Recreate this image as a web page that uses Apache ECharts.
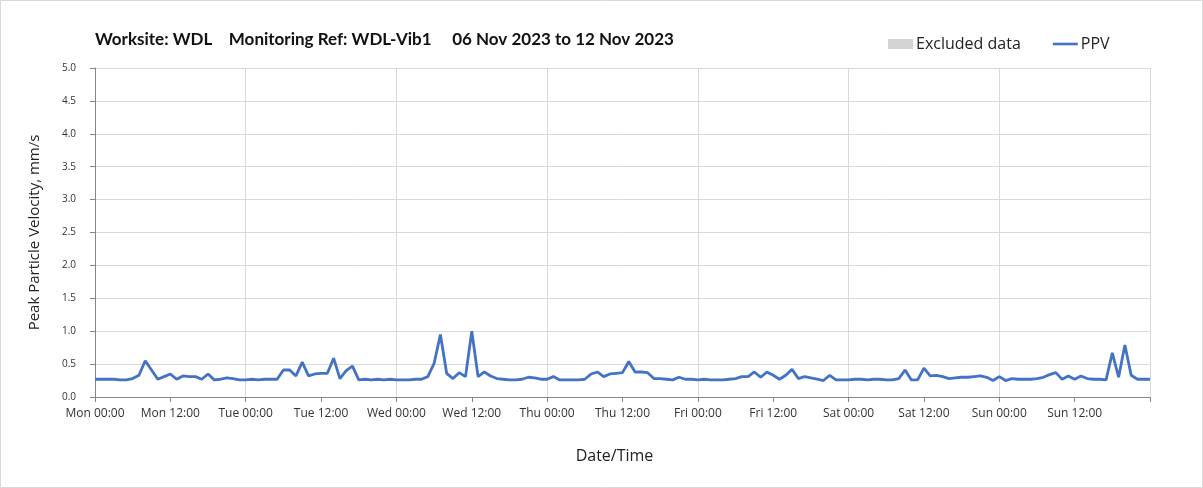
<!DOCTYPE html>
<html>
<head>
<meta charset="utf-8">
<script src="https://cdn.jsdelivr.net/npm/echarts@6/dist/echarts.min.js"></script>
<style>
html,body{margin:0;padding:0;background:#fff;}
#chart{width:1203px;height:488px;}
</style>
</head>
<body>
<div id="chart"></div>
<script>
// Hourly PPV readings (mm/s), 06 Nov 2023 00:00 to 13 Nov 2023 00:00
var monPPV = [0.27,0.27,0.27,0.27,0.26,0.26,0.28,0.33,0.55,0.41,0.27,0.31,0.35,0.27,0.32,0.31,0.31,0.27,0.35,0.26,0.27,0.29,0.28,0.26];
var tuePPV = [0.26,0.27,0.26,0.27,0.27,0.27,0.41,0.41,0.32,0.53,0.32,0.35,0.36,0.36,0.59,0.28,0.40,0.47,0.26,0.27,0.26,0.27,0.26,0.27];
var wedPPV = [0.26,0.26,0.26,0.27,0.27,0.31,0.51,0.95,0.36,0.28,0.37,0.31,1.00,0.31,0.38,0.32,0.28,0.27,0.26,0.26,0.27,0.30,0.29,0.27];
var thuPPV = [0.27,0.31,0.26,0.26,0.26,0.26,0.27,0.35,0.38,0.31,0.35,0.36,0.37,0.54,0.38,0.38,0.37,0.28,0.28,0.27,0.26,0.30,0.27,0.27];
var friPPV = [0.26,0.27,0.26,0.26,0.26,0.27,0.28,0.31,0.31,0.38,0.30,0.38,0.33,0.27,0.33,0.42,0.28,0.31,0.29,0.27,0.25,0.33,0.26,0.26];
var satPPV = [0.26,0.27,0.27,0.26,0.27,0.27,0.26,0.26,0.28,0.41,0.26,0.26,0.44,0.32,0.33,0.31,0.28,0.29,0.30,0.30,0.31,0.32,0.30,0.25];
var sunPPV = [0.31,0.25,0.28,0.27,0.27,0.27,0.28,0.30,0.34,0.37,0.27,0.32,0.27,0.32,0.28,0.27,0.27,0.26,0.67,0.30,0.79,0.33,0.27,0.27];
var endPPV = [0.27];
var dayNames = ['Mon','Tue','Wed','Thu','Fri','Sat','Sun','Mon'];
var yTicks = [0,0.5,1,1.5,2,2.5,3,3.5,4,4.5,5];

var ppv = [].concat(monPPV,tuePPV,wedPPV,thuPPV,friPPV,satPPV,sunPPV,endPPV);
var categories = [];
for (var i = 0; i < ppv.length; i++) {
  var d = Math.floor(i / 24), h = i % 24;
  categories.push(dayNames[d] + ' ' + (h < 10 ? '0' + h : h) + ':00');
}
var lastIdx = ppv.length - 1;

var chart = echarts.init(document.getElementById('chart'), null, {renderer:'canvas'});
chart.setOption({
  animation:false,
  backgroundColor:'#ffffff',
  title:{
    text:'Worksite: WDL    Monitoring Ref: WDL-Vib1     06 Nov 2023 to 12 Nov 2023',
    left:90, top:26,
    textStyle:{fontFamily:'Lato', fontWeight:'bold', fontSize:17, color:'#111'}
  },
  legend:{
    left:883, top:31,
    itemGap:32,
    itemWidth:25, itemHeight:10,
    symbolKeepAspect:true,
    textStyle:{fontFamily:'Open Sans', fontSize:16, color:'#222', padding:[0,0,0,-2]},
    data:[
      {name:'Excluded data', icon:'rect'},
      {name:'PPV', icon:'path://M0,0 L25,0 L25,2.6 L0,2.6 Z', itemStyle:{color:'#4472c4'}}
    ]
  },
  graphic:[{type:'rect', shape:{x:0.5,y:0.5,width:1202,height:487}, style:{fill:null, stroke:'#d9d9d9', lineWidth:1}, silent:true}],
  grid:{left:95, right:53, top:68, bottom:91},
  xAxis:{
    type:'category',
    data:categories,
    boundaryGap:false,
    name:'Date/Time',
    nameLocation:'middle',
    nameGap:51,
    nameTextStyle:{fontFamily:'Open Sans', fontSize:16, color:'#222', padding:[0,16,0,0]},
    axisLine:{lineStyle:{color:'#868686', width:1}},
    axisTick:{show:true, length:5, interval:function(i){return i % 12 === 0;}, lineStyle:{color:'#868686'}},
    axisLabel:{
      interval:function(i){return i % 12 === 0 && i < lastIdx;},
      fontFamily:'Open Sans', fontSize:12, color:'#333', margin:11
    },
    splitLine:{show:true, interval:function(i){return i % 24 === 0 && i > 0;}, lineStyle:{color:'#d9d9d9', width:1}}
  },
  yAxis:{
    type:'value',
    min:0, max:5, interval:0.5,
    name:'Peak Particle Velocity, mm/s',
    nameLocation:'middle',
    nameGap:53,
    nameTextStyle:{fontFamily:'Open Sans', fontSize:15, color:'#222'},
    axisLine:{show:true, lineStyle:{color:'#868686', width:1}},
    axisTick:{show:true, length:5, lineStyle:{color:'#868686'}},
    axisLabel:{fontFamily:'Open Sans', fontSize:10, color:'#333', margin:19,
      formatter:function(v){return v.toFixed(1);}},
    splitLine:{show:true, lineStyle:{color:'#d9d9d9', width:1}}
  },
  series:[
    {name:'Excluded data', type:'bar', data:[], itemStyle:{color:'#d4d4d4'}},
    {name:'PPV', type:'line', data:ppv, symbol:'none', smooth:false,
      lineStyle:{color:'#4472c4', width:2.8}, itemStyle:{color:'#4472c4'}}
  ]
});
</script>
</body>
</html>
